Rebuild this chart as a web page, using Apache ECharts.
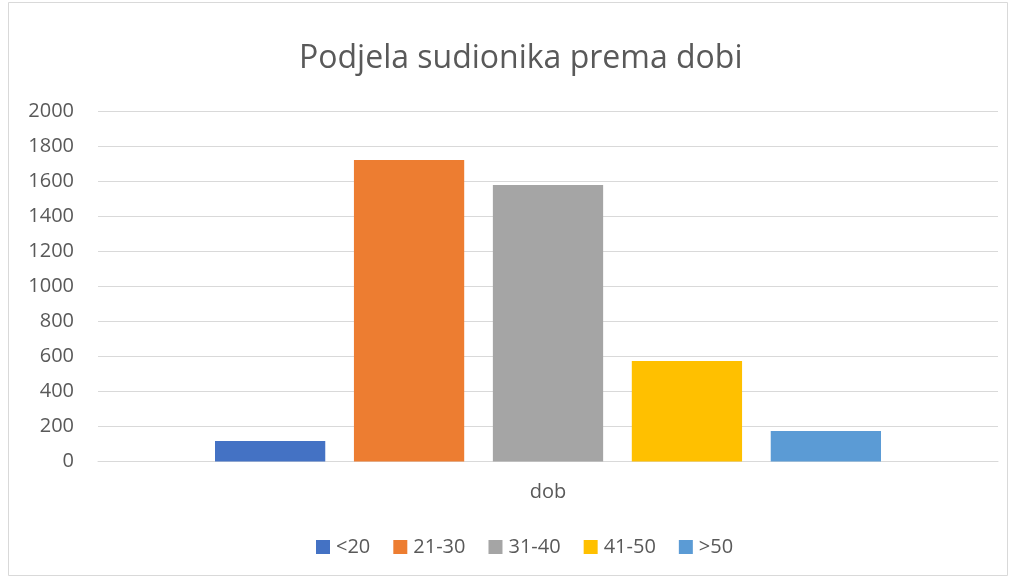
<!DOCTYPE html>
<html>
<head>
<meta charset="utf-8">
<script src="https://cdn.jsdelivr.net/npm/echarts@6/dist/echarts.min.js"></script>
<style>
  html, body { margin: 0; padding: 0; background: #fff; }
  #chart { width: 1013px; height: 579px; }
</style>
</head>
<body>
<div id="chart"></div>
<script>
// podaci
var categories = ['dob'];
var seriesNames = ['<20', '21-30', '31-40', '41-50', '>50'];
var seriesValues = [117, 1723, 1580, 574, 174];
var yTicks = [0, 200, 400, 600, 800, 1000, 1200, 1400, 1600, 1800, 2000];
var colorData = ['#4472c4', '#ed7d31', '#a5a5a5', '#ffc000', '#5b9bd5'];

var textColor = '#595959';
var fontName = '"Open Sans", "Noto Sans", sans-serif';

var chart = echarts.init(document.getElementById('chart'));

var seriesData = [];
for (var i = 0; i < seriesNames.length; i++) {
  seriesData.push({
    name: seriesNames[i],
    type: 'bar',
    data: [seriesValues[i]],
    barGap: '26%',
    barCategoryGap: '26%',
    itemStyle: { color: colorData[i] }
  });
}

var option = {
  backgroundColor: '#fff',
  animation: false,
  color: colorData,
  title: {
    text: 'Podjela sudionika prema dobi',
    left: 294,
    top: 38,
    textStyle: { color: textColor, fontSize: 32, fontWeight: 'normal', fontFamily: fontName }
  },
  legend: {
    data: seriesNames,
    bottom: 17,
    left: 311,
    itemWidth: 14,
    itemHeight: 14,
    itemGap: 23,
    icon: 'rect',
    textStyle: { color: textColor, fontSize: 20, fontFamily: fontName, padding: [0, 0, 0, 1] }
  },
  grid: { left: 98, right: 15, top: 111.5, bottom: 117.5, containLabel: false },
  xAxis: [{
    type: 'category',
    data: categories,
    axisLine: { show: true, lineStyle: { color: '#d9d9d9', width: 1 } },
    axisTick: { show: false },
    axisLabel: { color: textColor, fontSize: 20, fontFamily: fontName, margin: 21 }
  }],
  yAxis: [{
    type: 'value',
    min: yTicks[0],
    max: yTicks[yTicks.length - 1],
    interval: 200,
    axisLine: { show: false },
    axisTick: { show: false },
    splitLine: { show: true, lineStyle: { color: '#d9d9d9', width: 1 } },
    axisLabel: {
      color: textColor, fontSize: 20, fontFamily: fontName, margin: 24,
      formatter: function (v) { return String(v); }
    }
  }],
  graphic: [{
    type: 'rect',
    shape: { x: 8.5, y: 2.5, width: 999, height: 573 },
    style: { fill: 'none', stroke: '#d9d9d9', lineWidth: 1 },
    silent: true
  }],
  series: seriesData
};
chart.setOption(option);
</script>
</body>
</html>
